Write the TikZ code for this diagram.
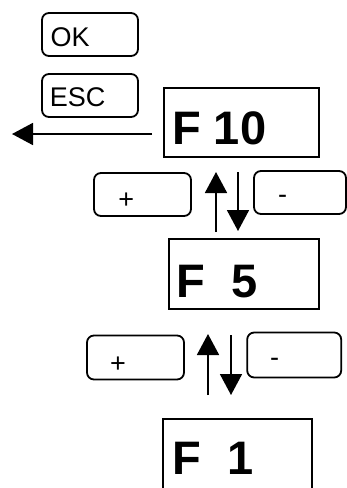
\documentclass[tikz,border=0pt]{standalone}
\usepackage{fontspec}
\setmainfont{Liberation Sans}
\usetikzlibrary{arrows.meta}
\begin{document}
\begin{tikzpicture}[x=1pt,y=-1pt,
  key/.style={draw, line width=1.8pt, rounded corners=7pt, inner sep=0pt},
  screen/.style={draw, line width=1.8pt, inner sep=0pt},
  keytext/.style={inner sep=0pt, anchor=base west, font=\fontsize{27}{32}\selectfont},
  screentext/.style={inner sep=0pt, anchor=base west, font=\fontsize{47}{56}\selectfont\bfseries},
  flow/.style={line width=1.8pt, -{Triangle[length=21pt,width=22pt]}}]
\useasboundingbox (0,0) rectangle (347,488);

% keys OK and ESC
\node[key, minimum width=96pt, minimum height=43pt] (ok) at (90,34.5) {};
\node[keytext] (oktext) at (50.4,46) {OK};
\node[key, minimum width=96pt, minimum height=43pt] (esc) at (90,95.5) {};
\node[keytext] (esctext) at (49.6,106) {ESC};

% display screens
\node[screen, minimum width=155pt, minimum height=69pt] (f10) at (241.5,122.5) {};
\node[screentext] (f10text) at (172,144) {F 10};
\node[screen, minimum width=150pt, minimum height=70pt] (f5) at (244,274) {};
\node[screentext] (f5text) at (176.5,297) {F\ \ 5};
\node[screen, minimum width=149pt, minimum height=70pt] (f1) at (237.8,454) {};
\node[screentext] (f1text) at (172.3,474.5) {F\ \ 1};

% plus / minus keys
\node[key, minimum width=97pt, minimum height=43pt] (plusA) at (142.5,194.5) {};
\node[keytext] (plusAtext) at (118.1,208.6) {+};
\node[key, minimum width=92pt, minimum height=43pt] (minusA) at (300,192.5) {};
\node[keytext] (minusAtext) at (277.8,203) {-};
\node[key, minimum width=97pt, minimum height=44pt] (plusB) at (135.5,357.5) {};
\node[keytext] (plusBtext) at (109.9,372.6) {+};
\node[key, minimum width=94pt, minimum height=45pt] (minusB) at (294.2,355) {};
\node[keytext] (minusBtext) at (270,366.6) {-};

% arrow ends
\coordinate (escA) at (152,134);
\coordinate (escB) at (12,134);
\coordinate (upAfrom) at (216,232);
\coordinate (upAto) at (216,172);
\coordinate (dnAfrom) at (238,172);
\coordinate (dnAto) at (238,231);
\coordinate (upBfrom) at (208,395);
\coordinate (upBto) at (208,334);
\coordinate (dnBfrom) at (231,335);
\coordinate (dnBto) at (231,395);

\draw[flow] (escA) -- (escB);
\draw[flow] (upAfrom) -- (upAto);
\draw[flow] (dnAfrom) -- (dnAto);
\draw[flow] (upBfrom) -- (upBto);
\draw[flow] (dnBfrom) -- (dnBto);
\end{tikzpicture}
\end{document}
